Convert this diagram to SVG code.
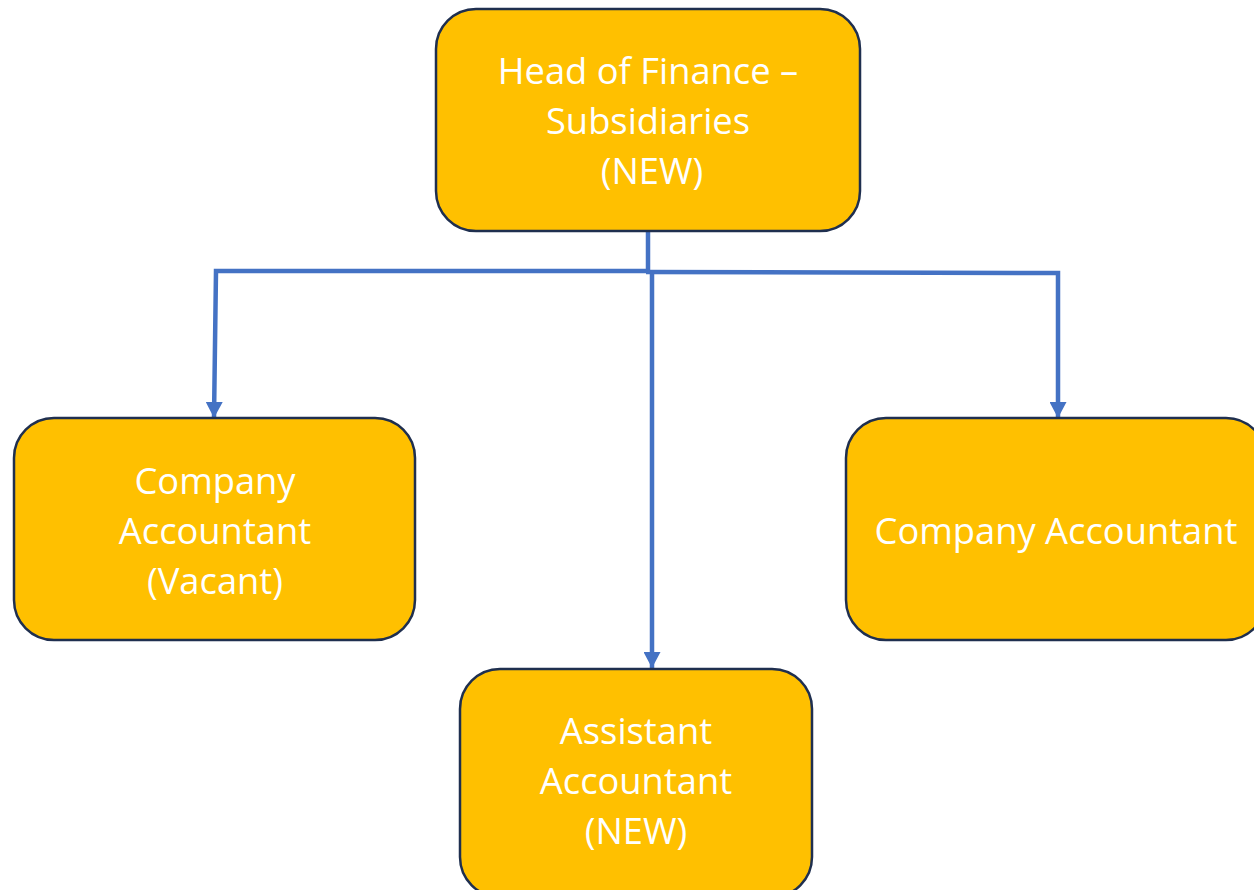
<svg xmlns="http://www.w3.org/2000/svg" width="1254" height="890" viewBox="0 0 1254 890">
<defs>
<style>
.box{fill:#FFC000;stroke:#1F2F4F;stroke-width:2.5}
.t{font-family:"Open Sans","Liberation Sans",sans-serif;font-size:36.3px;fill:#FFFFFF;text-anchor:middle}
.c{fill:none;stroke:#4472C4;stroke-width:4.5;stroke-linejoin:miter}
</style>
<marker id="arr" markerWidth="16" markerHeight="17" refX="16" refY="8.5" orient="auto" markerUnits="userSpaceOnUse" viewBox="0 0 16 17">
<path d="M0,0 L16,8.5 L0,17 Z" fill="#4472C4"/>
</marker>
</defs>
<rect width="1254" height="890" fill="#FFFFFF"/>
<g id="connectors">
<path class="c" d="M648,231 L648,273"/>
<path class="c" d="M650,271 L216,271 L214,418" marker-end="url(#arr)"/>
<path class="c" d="M646,272 L1058,273 L1058,418" marker-end="url(#arr)"/>
<path class="c" d="M652,271 L652,668" marker-end="url(#arr)"/>
</g>
<g id="node-head">
<rect class="box" x="436" y="9" width="424" height="222" rx="40"/>
<text class="t" x="648" y="84">Head of Finance –</text>
<text class="t" x="648" y="134">Subsidiaries</text>
<text class="t" x="652" y="184">(NEW)</text>
</g>
<g id="node-company-vacant">
<rect class="box" x="14" y="418" width="401" height="222" rx="40"/>
<text class="t" x="215" y="494">Company</text>
<text class="t" x="215" y="544">Accountant</text>
<text class="t" x="215" y="594">(Vacant)</text>
</g>
<g id="node-company">
<rect class="box" x="846" y="418" width="420" height="222" rx="40"/>
<text class="t" x="1056" y="544">Company Accountant</text>
</g>
<g id="node-assistant">
<rect class="box" x="460" y="669" width="352" height="228" rx="40"/>
<text class="t" x="636" y="744">Assistant</text>
<text class="t" x="636" y="794">Accountant</text>
<text class="t" x="636" y="844">(NEW)</text>
</g>
</svg>
